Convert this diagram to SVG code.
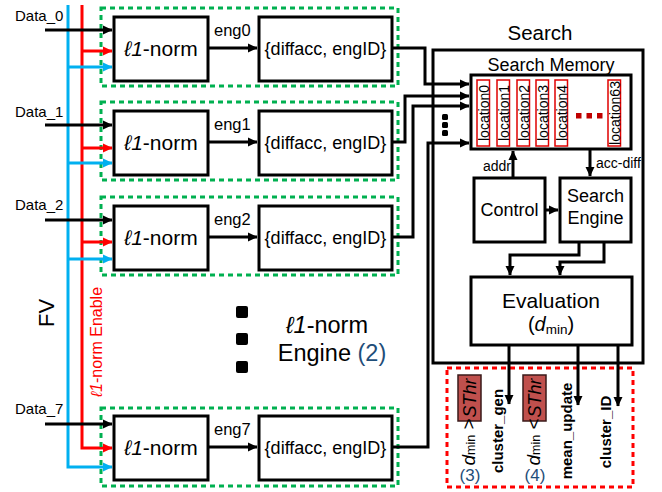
<svg xmlns="http://www.w3.org/2000/svg" width="662" height="492" viewBox="0 0 662 492">
<defs>
<marker id="ab" markerUnits="userSpaceOnUse" markerWidth="10" markerHeight="10" refX="9" refY="5" orient="auto"><path d="M0,0.5 L9.5,5 L0,9.5 Z" fill="#000"/></marker>
<marker id="ar" markerUnits="userSpaceOnUse" markerWidth="10" markerHeight="10" refX="9" refY="5" orient="auto"><path d="M0,0.5 L9.5,5 L0,9.5 Z" fill="#ff0000"/></marker>
<marker id="au" markerUnits="userSpaceOnUse" markerWidth="10" markerHeight="10" refX="9" refY="5" orient="auto"><path d="M0,0.5 L9.5,5 L0,9.5 Z" fill="#00b0f0"/></marker>
</defs>
<style>
text{font-family:"Liberation Sans",Arial,sans-serif;fill:#000}
.box{fill:#fff;stroke:#000;stroke-width:3}
.grn{fill:none;stroke:#00b050;stroke-width:3;stroke-dasharray:5 4}
.wa{fill:none;stroke:#000;stroke-width:3;marker-end:url(#ab)}
.wr{fill:none;stroke:#ff0000;stroke-width:3;marker-end:url(#ar)}
.wu{fill:none;stroke:#00b0f0;stroke-width:3;marker-end:url(#au)}
.l1{font-size:21px;text-anchor:middle}
.df{font-size:18px;text-anchor:middle}
.eng{font-size:16.5px}
.dat{font-size:15px}
.loc{fill:#fff;stroke:#e00000;stroke-width:1.5}
.loct{font-size:14px;text-anchor:middle;dominant-baseline:central}
.bold{font-size:15px;font-weight:bold;text-anchor:middle;dominant-baseline:central}
.thr{fill:#c0504d;stroke:#3a1a1a;stroke-width:1.5}
.blue{fill:#1f4e79}
.sq{fill:#000}
</style>

<g id="buses">
<path d="M68,5 V467 H112" class="wu"/>
<path d="M82,5 V448 H112" class="wr"/>
</g>

<g id="row0">
<rect x="101" y="8" width="297" height="78" class="grn"/>
<text x="15" y="21" class="dat">Data_0</text>
<path d="M45,30 H112" class="wa"/>
<path d="M82,51 H112" class="wr"/>
<path d="M68,67 H112" class="wu"/>
<rect x="114" y="17" width="94" height="64" class="box"/>
<text x="161" y="56" class="l1"><tspan font-style="italic">ℓ1</tspan>-norm</text>
<text x="214" y="36" class="eng">eng0</text>
<path d="M208,48 H257" class="wa"/>
<rect x="259" y="17" width="133" height="64" class="box"/>
<text x="325.5" y="55" class="df">{diffacc, engID}</text>
</g>

<g id="row1">
<rect x="101" y="102" width="297" height="78" class="grn"/>
<text x="15" y="117" class="dat">Data_1</text>
<path d="M45,125 H112" class="wa"/>
<path d="M82,148 H112" class="wr"/>
<path d="M68,163 H112" class="wu"/>
<rect x="114" y="111" width="94" height="64" class="box"/>
<text x="161" y="150" class="l1"><tspan font-style="italic">ℓ1</tspan>-norm</text>
<text x="214" y="130" class="eng">eng1</text>
<path d="M208,142 H257" class="wa"/>
<rect x="259" y="111" width="133" height="64" class="box"/>
<text x="325.5" y="149" class="df">{diffacc, engID}</text>
</g>

<g id="row2">
<rect x="101" y="197" width="297" height="78" class="grn"/>
<text x="15" y="210" class="dat">Data_2</text>
<path d="M45,220 H112" class="wa"/>
<path d="M82,242 H112" class="wr"/>
<path d="M68,259 H112" class="wu"/>
<rect x="114" y="206" width="94" height="64" class="box"/>
<text x="161" y="245" class="l1"><tspan font-style="italic">ℓ1</tspan>-norm</text>
<text x="214" y="225" class="eng">eng2</text>
<path d="M208,237 H257" class="wa"/>
<rect x="259" y="206" width="133" height="64" class="box"/>
<text x="325.5" y="244" class="df">{diffacc, engID}</text>
</g>

<g id="row7">
<rect x="101" y="408" width="297" height="78" class="grn"/>
<text x="15" y="414" class="dat">Data_7</text>
<path d="M45,424 H112" class="wa"/>
<rect x="114" y="416" width="94" height="64" class="box"/>
<text x="161" y="455" class="l1"><tspan font-style="italic">ℓ1</tspan>-norm</text>
<text x="214" y="435" class="eng">eng7</text>
<path d="M208,447 H257" class="wa"/>
<rect x="259" y="416" width="133" height="64" class="box"/>
<text x="325.5" y="454" class="df">{diffacc, engID}</text>
</g>

<g id="labels">
<text transform="translate(46,313) rotate(-90)" font-size="22" text-anchor="middle" dominant-baseline="central">FV</text>
<text transform="translate(96,342) rotate(-90)" font-size="16" text-anchor="middle" dominant-baseline="central" style="fill:#ff0000"><tspan font-style="italic">ℓ1</tspan>-norm Enable</text>
<rect x="236" y="306" width="12" height="12" rx="2" class="sq"/>
<rect x="236" y="333" width="12" height="12" rx="2" class="sq"/>
<rect x="236" y="361" width="12" height="12" rx="2" class="sq"/>
<text x="327" y="333" font-size="23.5" text-anchor="middle"><tspan font-style="italic">ℓ1</tspan>-norm</text>
<text x="332" y="361" font-size="23.5" text-anchor="middle">Engine <tspan class="blue">(2)</tspan></text>
</g>

<g id="search">
<rect x="433" y="50" width="210" height="313" fill="none" stroke="#000" stroke-width="3"/>
<text x="540" y="40" font-size="20.5" text-anchor="middle">Search</text>
</g>

<g id="memory">
<rect x="471" y="75" width="160" height="74" class="box"/>
<text x="551" y="71" font-size="18" text-anchor="middle">Search Memory</text>
<rect x="477" y="80" width="12.5" height="66" class="loc"/>
<rect x="497" y="80" width="12.5" height="66" class="loc"/>
<rect x="517" y="80" width="12.5" height="66" class="loc"/>
<rect x="536" y="80" width="12.5" height="66" class="loc"/>
<rect x="555" y="80" width="12.5" height="66" class="loc"/>
<rect x="608" y="80" width="12.5" height="66" class="loc"/>
<text transform="translate(483.5,113) rotate(-90)" class="loct">location0</text>
<text transform="translate(503.5,113) rotate(-90)" class="loct">location1</text>
<text transform="translate(523.5,113) rotate(-90)" class="loct">location2</text>
<text transform="translate(542.5,113) rotate(-90)" class="loct">location3</text>
<text transform="translate(561.5,113) rotate(-90)" class="loct">location4</text>
<text transform="translate(614.5,113) rotate(-90)" class="loct">location63</text>
<rect x="576" y="113" width="5.5" height="5.5" fill="#c00000"/>
<rect x="586.5" y="113" width="5.5" height="5.5" fill="#c00000"/>
<rect x="597" y="113" width="5.5" height="5.5" fill="#c00000"/>
</g>

<g id="control">
<rect x="474" y="178" width="71" height="64" class="box"/>
<text x="509.5" y="216" font-size="18" text-anchor="middle">Control</text>
</g>

<g id="searchengine">
<rect x="560" y="178" width="71" height="64" class="box"/>
<text x="595.5" y="202" font-size="18" text-anchor="middle">Search</text>
<text x="595.5" y="224" font-size="18" text-anchor="middle">Engine</text>
</g>

<g id="evaluation">
<rect x="471" y="277" width="161" height="68" class="box"/>
<text x="551" y="308" font-size="21" text-anchor="middle">Evaluation</text>
<text x="551" y="331" font-size="20" text-anchor="middle">(<tspan font-style="italic">d</tspan><tspan font-size="13.5" dy="3">min</tspan><tspan dy="-3">)</tspan></text>
</g>

<g id="outputs">
<rect x="447" y="368" width="186" height="119" fill="none" stroke="#ff0000" stroke-width="3" stroke-dasharray="5 4"/>
<rect x="458" y="375" width="23" height="46" class="thr"/>
<text transform="translate(469.5,398) rotate(-90)" font-size="18" font-style="italic" text-anchor="middle" dominant-baseline="central">SThr</text>
<text transform="translate(468,442) rotate(-90)" font-size="19" text-anchor="middle" dominant-baseline="central"><tspan font-style="italic">d</tspan><tspan font-size="12.5" dy="3">min</tspan><tspan dy="-3"> &gt;</tspan></text>
<text x="470" y="481" font-size="17" text-anchor="middle" class="blue">(3)</text>
<text transform="translate(497,431) rotate(-90)" class="bold">cluster_gen</text>

<rect x="523" y="375" width="23" height="46" class="thr"/>
<text transform="translate(534.5,398) rotate(-90)" font-size="18" font-style="italic" text-anchor="middle" dominant-baseline="central">SThr</text>
<text transform="translate(533,442) rotate(-90)" font-size="19" text-anchor="middle" dominant-baseline="central"><tspan font-style="italic">d</tspan><tspan font-size="12.5" dy="3">min</tspan><tspan dy="-3"> &lt;</tspan></text>
<text x="535" y="481" font-size="17" text-anchor="middle" class="blue">(4)</text>
<text transform="translate(566,431) rotate(-90)" class="bold">mean_update</text>
<text transform="translate(605,432) rotate(-90)" class="bold">cluster_ID</text>
</g>

<g id="connectors">
<path d="M392,48 H425 V84 H469" class="wa"/>
<path d="M392,142 H405 V96 H469" class="wa"/>
<path d="M392,237 H413 V106 H469" class="wa"/>
<path d="M392,447 H428 V143 H469" class="wa"/>
<rect x="442" y="114" width="6" height="6" rx="1.5" class="sq"/>
<rect x="442" y="122" width="6" height="6" rx="1.5" class="sq"/>
<rect x="442" y="130" width="6" height="6" rx="1.5" class="sq"/>
<path d="M513,178 V151" class="wa"/>
<text x="511" y="171" font-size="14" text-anchor="end">addr</text>
<path d="M590,149 V176" class="wa"/>
<text x="596" y="168" font-size="14">acc-diff</text>
<path d="M545,210 H558" class="wa"/>
<path d="M579,242 V255 H510 V275" class="wa"/>
<path d="M604,242 V262 H560 V275" class="wa"/>
<path d="M509,345 V404" class="wa"/>
<path d="M578,345 V405" class="wa"/>
<path d="M618,345 V406" class="wa"/>
</g>
</svg>
